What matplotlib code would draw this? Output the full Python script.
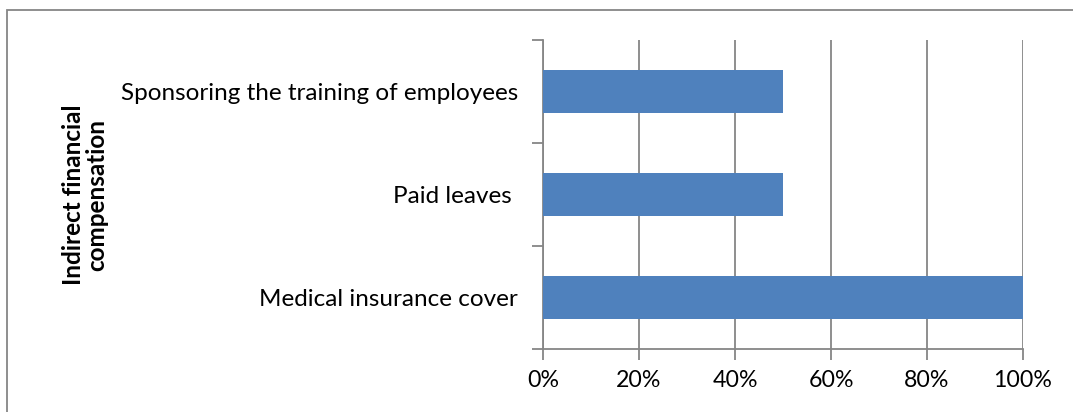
import matplotlib
matplotlib.use("Agg")
import matplotlib.pyplot as plt
from matplotlib.patches import Rectangle
from matplotlib.ticker import FixedLocator, FuncFormatter

categories = ["Medical insurance cover", "Paid leaves ", "Sponsoring the training of employees"]
values = [100, 50, 50]
xticks = [0, 20, 40, 60, 80, 100]
ylabel = "Indirect financial\ncompensation"

plt.rcParams['font.family'] = ['Lato', 'DejaVu Sans']

W, H = 1073, 412
fig = plt.figure(figsize=(W / 100, H / 100), dpi=100)
ax = fig.add_axes([543 / W, 1 - 349 / H, (1023 - 543) / W, (349 - 40) / H])

gray = "#868686"
ax.barh(range(len(categories)), values, height=0.41, color="#4F81BD", zorder=3)
ax.set_xlim(0, 100)
ax.set_ylim(-0.5, len(categories) - 0.5)
ax.set_xticks(xticks)
ax.xaxis.set_major_formatter(FuncFormatter(lambda v, p: f"{int(v)}%"))
ax.grid(axis="x", color=gray, linewidth=1.3, zorder=0)
ax.set_axisbelow(True)

ax.yaxis.set_major_locator(FixedLocator([i - 0.5 for i in range(len(categories) + 1)]))
ax.yaxis.set_minor_locator(FixedLocator(list(range(len(categories)))))
ax.set_yticklabels([])
ax.set_yticklabels(categories, minor=True)
ax.tick_params(axis="y", which="major", length=8, color=gray, width=1.3)
ax.tick_params(axis="y", which="minor", length=0, pad=18, labelsize=17.5)
ax.tick_params(axis="x", length=8, color=gray, width=1.3, labelsize=16.7, pad=7)

for s in ["top", "right"]:
    ax.spines[s].set_visible(False)
for s in ["left", "bottom"]:
    ax.spines[s].set_color(gray)
    ax.spines[s].set_linewidth(1.3)

fig.text(85 / W, 1 - 195 / H, ylabel, rotation=90, ha="center", va="center",
         fontsize=17.5, fontweight="bold", linespacing=1.0)

fig.patches.append(Rectangle((7 / W, -0.1), 1.2, 1 - 10 / H + 0.1,
                             transform=fig.transFigure, fill=False,
                             edgecolor=gray, linewidth=1.3))

fig.savefig("out.png", dpi=100)
